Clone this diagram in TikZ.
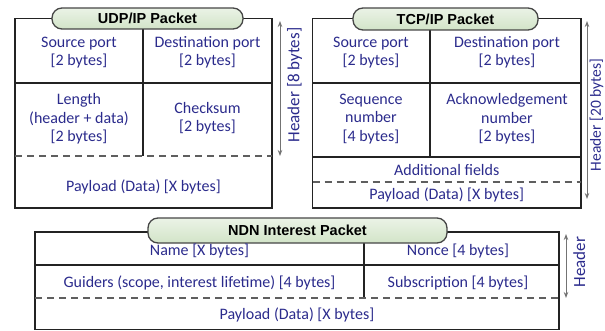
\documentclass[tikz,border=0pt]{standalone}
\usepackage{fontspec}
\setmainfont{Carlito}
\newfontfamily\titlefont{Liberation Sans}
\usetikzlibrary{arrows.meta}
\definecolor{txt}{RGB}{43,43,140}
\definecolor{pillfill}{RGB}{210,228,200}
\definecolor{pillline}{RGB}{70,70,70}
\definecolor{boxline}{RGB}{35,35,35}
\definecolor{dashc}{RGB}{95,95,95}
\definecolor{arrc}{RGB}{115,115,115}
\begin{document}
\begin{tikzpicture}[x=1pt,y=-1pt,
  field/.style={text=txt, font=\fontsize{16}{18.5}\selectfont, align=center, inner sep=0pt},
  pill/.style={draw=pillline, line width=1.3pt, rounded corners=10pt, top color=pillfill!45!white, bottom color=pillfill,
    font=\titlefont\bfseries\fontsize{14.5}{16}\selectfont, text=black, inner sep=0pt},
  frame/.style={draw=boxline, line width=1.3pt},
  sepline/.style={draw=boxline, line width=1.1pt},
  dsep/.style={draw=dashc, line width=1.3pt, dash pattern=on 7pt off 5pt},
  harrow/.style={draw=arrc, line width=1pt, {Stealth[length=6pt,width=4.5pt]}-{Stealth[length=6pt,width=4.5pt]}},
  hlabel/.style={text=txt, font=\fontsize{17}{20}\selectfont, rotate=90, anchor=north, inner sep=0pt}
]
\useasboundingbox (0,0) rectangle (605,331);

% ---------- UDP/IP ----------
\draw[frame] (15,18.5) rectangle (272,208);
\draw[sepline] (15,83) -- (272,83);
\draw[sepline] (143,18.5) -- (143,156);
\draw[dsep] (15,156) -- (272,156);
\node[pill, minimum width=191pt, minimum height=21pt] (udpt) at (147.5,18.5) {UDP/IP Packet};
\node[field] (udps) at (79,52.5) {Source port\\{[2 bytes]}};
\node[field] (udpd) at (207.5,52.5) {Destination port\\{[2 bytes]}};
\node[field] (udpl) at (79,119) {Length\\(header + data)\\{[2 bytes]}};
\node[field] (udpc) at (207.5,118) {Checksum\\{[2 bytes]}};
\node[field] (udpp) at (143.5,187) {Payload (Data) [X bytes]};
\coordinate (udpa1) at (280,21);
\coordinate (udpa2) at (280,156);
\draw[harrow] (udpa1) -- (udpa2);
\node[hlabel] (udph) at (287,85) {Header [8 bytes]};

% ---------- TCP/IP ----------
\draw[frame] (312.5,18.5) rectangle (581,208);
\draw[sepline] (312.5,83) -- (581,83);
\draw[sepline] (312.5,157) -- (581,157);
\draw[sepline] (430,18.5) -- (430,157);
\draw[dsep] (312.5,182) -- (581,182);
\node[pill, minimum width=185pt, minimum height=22pt] (tcpt) at (445.5,19) {TCP/IP Packet};
\node[field] (tcps) at (371,52.5) {Source port\\{[2 bytes]}};
\node[field] (tcpd) at (507,52.5) {Destination port\\{[2 bytes]}};
\node[field] (tcpq) at (371,119) {Sequence\\number\\{[4 bytes]}};
\node[field] (tcpk) at (507,119) {Acknowledgement\\number\\{[2 bytes]}};
\node[field] (tcpf) at (446.75,170.5) {Additional fields};
\node[field] (tcpp) at (446.75,195) {Payload (Data) [X bytes]};
\coordinate (tcpa1) at (587,21);
\coordinate (tcpa2) at (587,199);
\draw[harrow] (tcpa1) -- (tcpa2);
\node[hlabel, font=\fontsize{15.5}{18}\selectfont] (tcph) at (589.5,115) {Header [20 bytes]};

% ---------- NDN Interest ----------
\draw[frame] (35,232) rectangle (559,329.5);
\draw[sepline] (35,265) -- (559,265);
\draw[sepline] (364,232) -- (364,298);
\draw[dsep] (35,298) -- (559,298);
\node[pill, minimum width=299pt, minimum height=25pt] (ndnt) at (297.5,230.5) {NDN Interest Packet};
\node[field] (ndnn) at (199.5,251) {Name [X bytes]};
\node[field] (ndnc) at (458,251) {Nonce [4 bytes]};
\node[field] (ndng) at (199.5,283) {Guiders (scope, interest lifetime) [4 bytes]};
\node[field] (ndns) at (458,283) {Subscription [4 bytes]};
\node[field] (ndnp) at (297,315) {Payload (Data) [X bytes]};
\coordinate (ndna1) at (566,234);
\coordinate (ndna2) at (566,298);
\draw[harrow] (ndna1) -- (ndna2);
\node[hlabel] (ndnh) at (573,262) {Header};
\end{tikzpicture}
\end{document}
